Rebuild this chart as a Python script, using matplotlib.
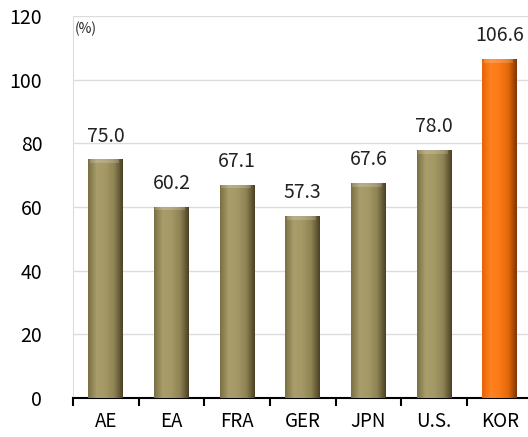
import numpy as np
import matplotlib
matplotlib.use("Agg")
import matplotlib.pyplot as plt
from matplotlib.colors import LinearSegmentedColormap

plt.rcParams["font.family"] = ["Noto Sans CJK KR", "DejaVu Sans"]

countries = ["AE", "EA", "FRA", "GER", "JPN", "U.S.", "KOR"]
values = [75.0, 60.2, 67.1, 57.3, 67.6, 78.0, 106.6]
highlight = "KOR"

olive = LinearSegmentedColormap.from_list(
    "olive", ["#7a6f42", "#a89d6b", "#a49866", "#8e8354", "#4a4022"])
orange = LinearSegmentedColormap.from_list(
    "orange", ["#e86205", "#ff8220", "#fb7a16", "#e46808", "#803504"])

fig = plt.figure(figsize=(5.28, 4.37), dpi=100)
ax = fig.add_axes([0.138, 0.089, 0.862, 0.874])

x = np.arange(len(countries))
width = 0.53
bars = ax.bar(x, values, width=width, color="none", edgecolor="none", zorder=3)

# shade each bar with a horizontal gradient for the bevelled look
grad = np.linspace(0, 1, 256).reshape(1, -1)
for rect, name in zip(bars, countries):
    cmap = orange if name == highlight else olive
    x0, y0 = rect.get_x(), rect.get_y()
    w, h = rect.get_width(), rect.get_height()
    im = ax.imshow(grad, cmap=cmap, aspect="auto", zorder=3,
                   extent=(x0, x0 + w, y0, y0 + h))
    im.set_clip_path(rect)
    # light cap on the top edge
    ax.fill_between([x0 + 0.02, x0 + w - 0.06], y0 + h - 1.2, y0 + h,
                    color="white", alpha=0.18, lw=0, zorder=4)

for xi, v in zip(x, values):
    ax.text(xi, v + 4, f"{v:.1f}", ha="center", va="bottom",
            fontsize=14, color="#222222")

ax.set_xlim(-0.5, 6.43)
ax.set_ylim(0, 120)
ax.set_yticks(range(0, 121, 20))
ax.yaxis.grid(True, color="#dcdcdc", lw=1)
ax.set_axisbelow(True)

ax.set_xticks(x)
ax.set_xticklabels(countries, fontsize=13.5)
ax.set_xticks(np.arange(-0.5, 6.5, 1), minor=True)
ax.tick_params(axis="x", which="major", length=0, pad=9)
ax.tick_params(axis="x", which="minor", length=6, width=1.5,
               direction="out", color="black")
ax.tick_params(axis="y", length=0, labelsize=14, pad=22)

for side in ["top", "right"]:
    ax.spines[side].set_visible(False)
ax.spines["left"].set_color("#dcdcdc")
ax.spines["bottom"].set_color("black")
ax.spines["bottom"].set_linewidth(1.5)

ax.text(0.005, 0.985, "(%)", transform=ax.transAxes, fontsize=10,
        ha="left", va="top", color="#222222")

fig.savefig("out.png", dpi=100)
